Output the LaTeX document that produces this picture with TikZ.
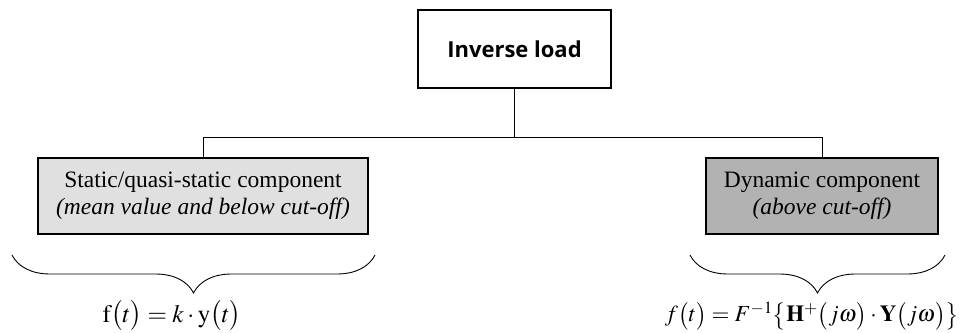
\documentclass[tikz,border=0pt]{standalone}
\usepackage{mathptmx}
\usepackage{fontspec}
\setmainfont{Liberation Serif}
\newfontfamily\headfont{Open Sans}
\usepackage{tikz}
\usetikzlibrary{decorations.pathreplacing}

\begin{document}
\begin{tikzpicture}[x=1pt,y=-1pt,
  box/.style={draw, line width=1.1pt, inner sep=0pt, align=center,
    font=\fontsize{23.5}{27}\selectfont},
  link/.style={line width=0.9pt},
  curly/.style={line width=0.9pt, decorate,
    decoration={brace, amplitude=38pt}},
  formula/.style={font=\fontsize{23}{27}\selectfont}]
\useasboundingbox (0,0) rectangle (963,332);
% boxes
\node[box, minimum width=193pt, minimum height=78pt,
  font=\headfont\bfseries\fontsize{22}{26}\selectfont] (inv) at (514.5,49) {Inverse load};
\node[box, fill=black!12, minimum width=330pt, minimum height=76pt] (stat) at (203,196)
  {Static/quasi-static component\\ \textit{(mean value and below cut-off)}};
\node[box, fill=black!30, minimum width=232pt, minimum height=76pt] (dyn) at (822,196)
  {Dynamic component\\ \textit{(above cut-off)}};
%
\coordinate (bus) at (514.5,137);
\draw[link] (inv.south) -- (bus);
\draw[link] (stat.north) -- (stat.north |- bus) -- (dyn.north |- bus) -- (dyn.north);
% braces
\coordinate (sa) at (12,255);
\coordinate (sb) at (375,255);
\coordinate (da) at (690,255);
\coordinate (db) at (945,255);
\draw[curly] (sb) -- (sa);
\draw[curly] (db) -- (da);
%
\node[formula, font=\fontsize{25}{29}\selectfont] (fs) at (172,316)
  {$\mathrm{f}\bigl(t\bigr)=k\cdot\mathrm{y}\bigl(t\bigr)$};
\node[formula] (fd) at (812,316)
  {$f\bigl(t\bigr)=F^{-1}\bigl\{\mathbf{H}^{+}\bigl(j\omega\bigr)\cdot\mathbf{Y}\bigl(j\omega\bigr)\bigr\}$};
\end{tikzpicture}
\end{document}
